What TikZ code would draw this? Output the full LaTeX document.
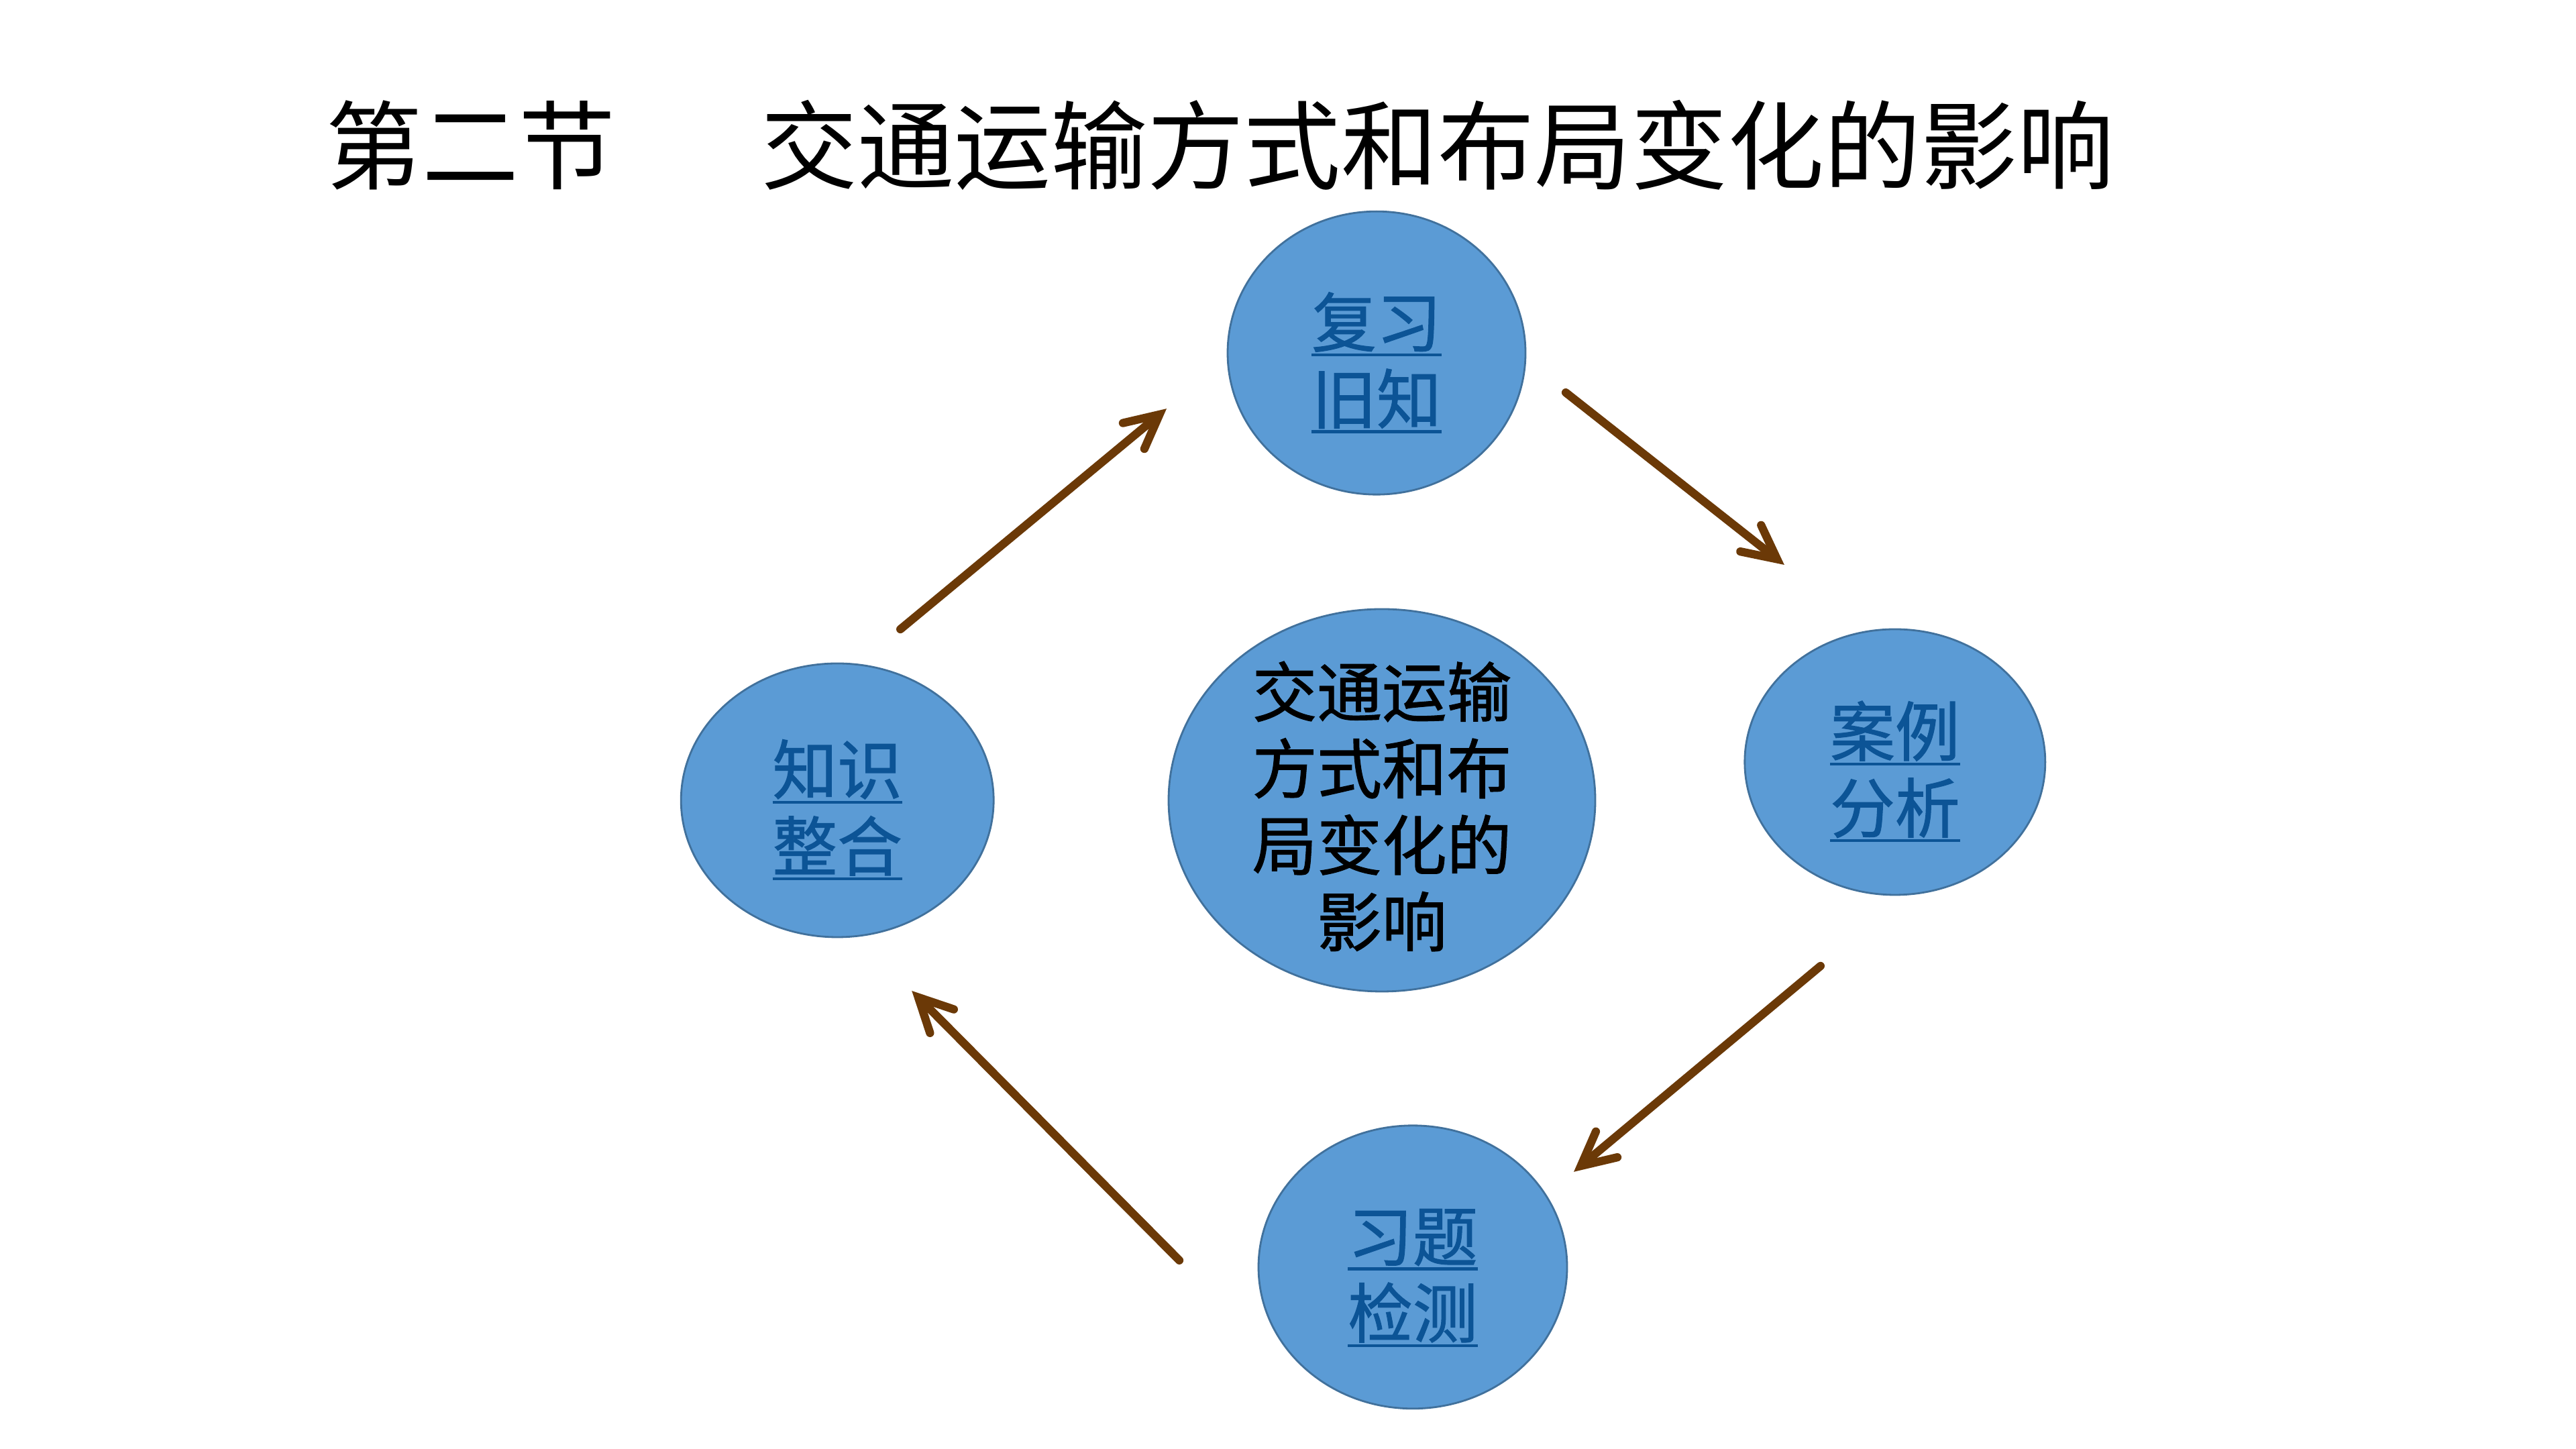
\documentclass[tikz,border=0pt]{standalone}
\usepackage{fontspec}
\setmainfont{Noto Sans CJK SC}
\newfontfamily\ballfont{Noto Sans CJK SC}[FakeBold=1.2]
\usepackage{tikz}
\usetikzlibrary{arrows.meta,positioning,shapes.geometric}
\definecolor{ballblue}{RGB}{91,155,213}
\definecolor{balledge}{RGB}{65,113,156}
\definecolor{linkblue}{RGB}{12,84,150}
\definecolor{arrowbrown}{RGB}{107,57,7}
\newsavebox\linkbox
\newcommand{\linkline}[1]{\sbox\linkbox{#1}\rlap{\rule[-0.145cm]{\wd\linkbox}{0.045cm}}\usebox\linkbox}
\newcommand{\stagelabel}[2]{\rule{0pt}{1.1cm}\linkline{#1}\\\linkline{#2}}

\begin{document}
\begin{tikzpicture}[>={Straight Barb[length=0.5cm,width=0.5cm,line cap=round,line join=miter]},
    ball/.style={ellipse, draw=balledge, fill=ballblue, line width=0.8pt, inner sep=-0.3cm, align=center, font=\ballfont\fontsize{27.5}{32.5}\selectfont},
    stage/.style={ball, text=linkblue},
    flow/.style={->, draw=arrowbrown, line width=3.5pt, line cap=round}]
  \useasboundingbox[fill=white] (0,0) rectangle (38.4,21.6);
  % title
  \node[anchor=west, inner sep=0pt, font=\fontsize{41}{48}\selectfont] (chapter) at (4.85,19.44) {第二节};
  \node[right=2.15cm of chapter, inner sep=0pt, font=\fontsize{41}{48}\selectfont] (topic) {交通运输方式和布局变化的影响};
  % cycle
  \node[ball, minimum width=6.36cm, minimum height=5.70cm] (hub) at (20.60,9.67) {\rule{0pt}{1.0cm}交通运输\\方式和布\\局变化的\\影响};
  \node[stage, above=1.68cm of hub, xshift=-0.08cm, minimum width=4.44cm, minimum height=4.22cm] (review) {\stagelabel{复习}{旧知}};
  \node[stage, right=2.20cm of hub, yshift=0.57cm, minimum width=4.48cm, minimum height=3.96cm] (cases) {\stagelabel{案例}{分析}};
  \node[stage, below=1.97cm of hub, xshift=0.46cm, minimum width=4.60cm, minimum height=4.22cm] (drill) {\stagelabel{习题}{检测}};
  \node[stage, left=2.58cm of hub, minimum width=4.66cm, minimum height=4.08cm] (knit) {\stagelabel{知识}{整合}};
  \draw[flow] ([shift={(0.94,2.55)}]knit.center) -- ([shift={(-3.13,-0.83)}]review.center);
  \draw[flow] ([shift={(2.82,-0.59)}]review.center) -- ([shift={(-1.65,2.94)}]cases.center);
  \draw[flow] ([shift={(-1.11,-3.04)}]cases.center) -- ([shift={(2.40,1.42)}]drill.center);
  \draw[flow] ([shift={(-3.48,0.10)}]drill.center) -- ([shift={(1.11,-2.84)}]knit.center);
\end{tikzpicture}
\end{document}
